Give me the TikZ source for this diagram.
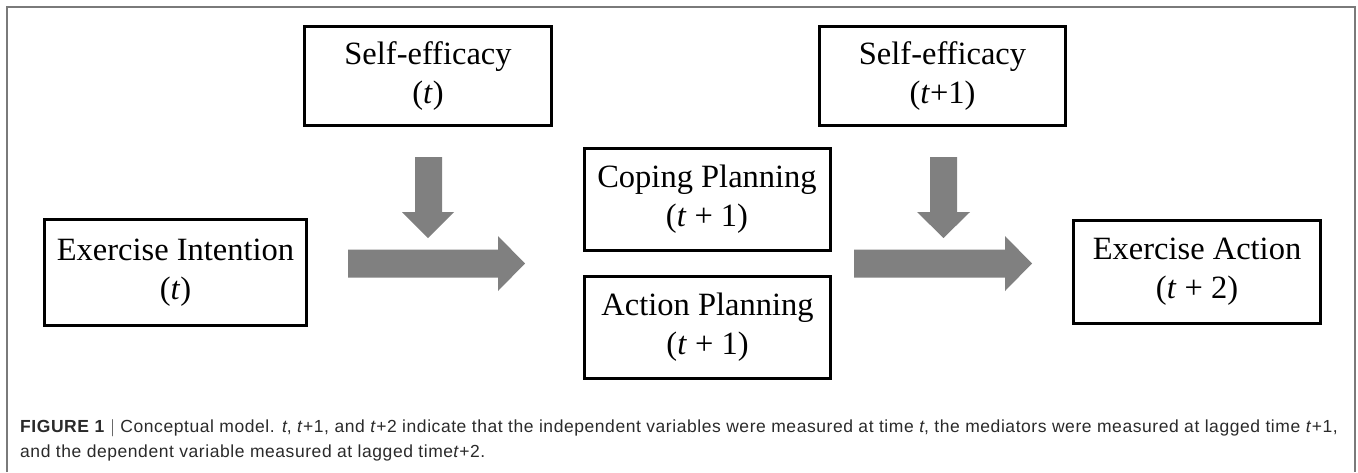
\documentclass[tikz,border=0pt]{standalone}
\usepackage{fontspec}
\setmainfont{Liberation Serif}
\newfontfamily\capfont[LetterSpace=3.2]{Liberation Sans}
\definecolor{arrowgray}{HTML}{808080}
\definecolor{framegray}{HTML}{7A7A7A}
\definecolor{captext}{HTML}{2A2A2A}
\tikzset{
  varbox/.style={draw=black, line width=3pt, fill=white, inner sep=0pt,
    align=center, font=\fontsize{32.5}{39}\selectfont},
  blockarrow/.style={fill=arrowgray, draw=none},
  captionline/.style={anchor=base west, inner sep=0pt, text=captext,
    font=\capfont\fontsize{17.5}{20}\selectfont}
}
\begin{document}
\begin{tikzpicture}[x=1pt,y=-1pt]
\useasboundingbox (0,0) rectangle (1358,472);
\draw[framegray, line width=1.4pt] (7,472) -- (7,7) -- (1355,7) -- (1355,472);

% variable boxes
\node[varbox, minimum width=247pt, minimum height=99pt] (se1) at (428,76) {Self-efficacy\\(\textit{t})};
\node[varbox, minimum width=262pt, minimum height=106pt] (ei) at (175.5,272.5) {Exercise Intention\\(\textit{t})};
\node[varbox, minimum width=246pt, minimum height=102pt] (cp) at (707,199) {Coping Planning\\(\textit{t} + 1)};
\node[varbox, minimum width=246pt, minimum height=102pt] (ap) at (707.5,327) {Action Planning\\(\textit{t} + 1)};
\node[varbox, minimum width=246pt, minimum height=99pt] (se2) at (942.5,76) {Self-efficacy\\(\textit{t}+1)};
\node[varbox, minimum width=247pt, minimum height=103pt] (ea) at (1197,272) {Exercise Action\\(\textit{t} + 2)};

% block arrows (left group)
\fill[blockarrow] (415,157) -- (442,157) -- (442,212) -- (454,212) -- (428,238) -- (402,212) -- (415,212) -- cycle;
\fill[blockarrow] (348,249.5) -- (498,249.5) -- (498,236) -- (525,263.5) -- (498,291) -- (498,277.5) -- (348,277.5) -- cycle;
% block arrows (right group)
\fill[blockarrow] (930,157) -- (957,157) -- (957,212) -- (970,212) -- (943.5,238) -- (917,212) -- (930,212) -- cycle;
\fill[blockarrow] (854,249.5) -- (1005,249.5) -- (1005,236) -- (1032,263.5) -- (1005,291) -- (1005,277.5) -- (854,277.5) -- cycle;

% caption
\node[captionline] (cap1) at (20,432) {\textbf{FIGURE 1} $|$ Conceptual model. \textit{t}, \textit{t}+1, and \textit{t}+2 indicate that the independent variables were measured at time \textit{t}, the mediators were measured at lagged time \textit{t}+1,};
\node[captionline] (cap2) at (20,457) {and the dependent variable measured at lagged time\textit{t}+2.};
\end{tikzpicture}
\end{document}
